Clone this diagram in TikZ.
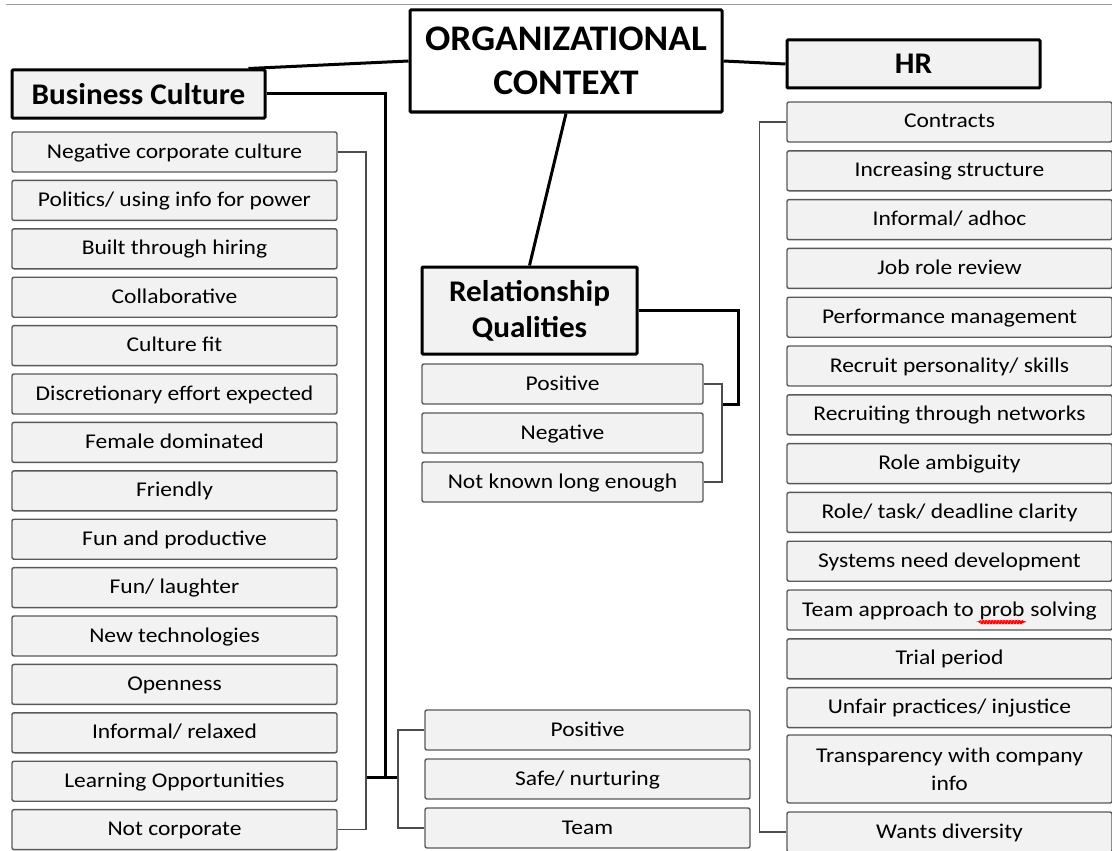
\documentclass[tikz,border=0pt]{standalone}
\usepackage{fontspec}
\setmainfont{Carlito}
\newfontfamily\leaffont{Carlito}[FakeStretch=1.12]
\newfontfamily\hdrfont{Carlito}[FakeStretch=1.04]
\usetikzlibrary{decorations.pathmorphing}

% red spell-check mark under a word
\newcommand\spellmark[1]{\tikz[baseline=(w.base)]{\node[inner sep=0pt, draw=none, fill=none, minimum width=0pt, minimum height=0pt] (w) {#1};
  \draw[red, line width=0.6pt, decorate, decoration={snake, amplitude=0.7pt, segment length=3pt}] ([yshift=-2.5pt]w.south west) -- ([yshift=-2.5pt]w.south east);}}

\begin{document}
\begin{tikzpicture}[x=1pt, y=-1pt,
  every node/.style = {shape=rectangle, rounded corners=2pt, align=center, inner sep=0pt},
  leaf/.style = {draw=black!65, line width=1.4pt, fill=black!5, text height=16pt, text depth=4pt,
    minimum width=325pt, minimum height=40pt, font=\leaffont\fontsize{21}{28}\selectfont},
  hdr/.style = {draw=black, line width=3pt, fill=black!5, rounded corners=1pt,
    font=\hdrfont\fontsize{30}{36}\selectfont\bfseries},
  link/.style = {draw=black!70, line width=1.4pt, rounded corners=0pt},
  trunk/.style = {draw=black, line width=3pt, rounded corners=0pt}]
  \useasboundingbox (0,0) rectangle (1112,851);
  \draw[black!40, line width=1pt] (6,5) -- (1112,5);

  % headers
  \node[hdr, fill=white, minimum width=312pt, minimum height=102pt, font=\hdrfont\fontsize{36}{44}\selectfont\bfseries]
    (org) at (566,61) {ORGANIZATIONAL\\CONTEXT};
  \node[hdr, minimum width=253pt, minimum height=48pt] (bc) at (138.5,94) {Business Culture};
  \node[hdr, minimum width=253pt, minimum height=48pt] (hr) at (913.5,64) {HR};
  \node[hdr, minimum width=215pt, minimum height=87pt] (rq) at (529.5,310.5) {Relationship\\Qualities};

  % business culture
  \foreach \t [count=\i from 0] in {Negative corporate culture, Politics/ using info for power,
      Built through hiring, Collaborative, Culture fit, Discretionary effort expected,
      Female dominated, Friendly, Fun and productive, Fun/ laughter, New technologies,
      Openness, Informal/ relaxed, Learning Opportunities, Not corporate}
    \node[leaf] (bc\i) at (174.5,152+48.4*\i) {\t};

  % HR
  \foreach \t [count=\i from 0] in {Contracts, Increasing structure, Informal/ adhoc,
      Job role review, Performance management, Recruit personality/ skills,
      Recruiting through networks, Role ambiguity, Role/ task/ deadline clarity,
      Systems need development, Team approach to \spellmark{prob} solving, Trial period,
      Unfair practices/ injustice}
    \node[leaf] (hr\i) at (949.5,122+48.8*\i) {\t};
  \node[leaf, minimum height=68pt, text height=, text depth=] (hrtrans) at (949.5,769) {Transparency with company\\info};
  \node[leaf] (hrwant) at (949.5,832) {Wants diversity};

  % relationship qualities
  \node[leaf, minimum width=281pt] (rqpos) at (562.5,384) {Positive};
  \node[leaf, minimum width=281pt] (rqneg) at (562.5,433) {Negative};
  \node[leaf, minimum width=281pt] (rqlong) at (562.5,482) {Not known long enough};

  % bottom middle
  \node[leaf] (mpos) at (587.5,730) {Positive};
  \node[leaf] (msafe) at (587.5,779) {Safe/ nurturing};
  \node[leaf] (mteam) at (587.5,828) {Team};

  % connectors
  \draw[trunk] (org.west) -- ([xshift=-18pt]bc.north east);
  \draw[trunk] (org.east) -- (hr.west);
  \draw[trunk] (org.south) -- (rq.north);

  \coordinate (lbr) at (366,777);
  \coordinate (mbr) at (398,777);
  \draw[trunk] (bc.east) -| (385,777);
  \draw[trunk] (lbr) -- (mbr);
  \draw[link] (bc0.east) -| (lbr) |- (bc14.east);
  \draw[link] (mpos.west) -| (mbr) |- (mteam.west);

  \coordinate (rqj) at (722,404);
  \draw[trunk] (rq.east) -- ++(100,0) |- (rqj);
  \draw[link] (rqpos.east) -| (rqj) |- (rqlong.east);

  \draw[link] (hr0.west) -- ++(-27,0) |- (hrwant.west);
\end{tikzpicture}
\end{document}
